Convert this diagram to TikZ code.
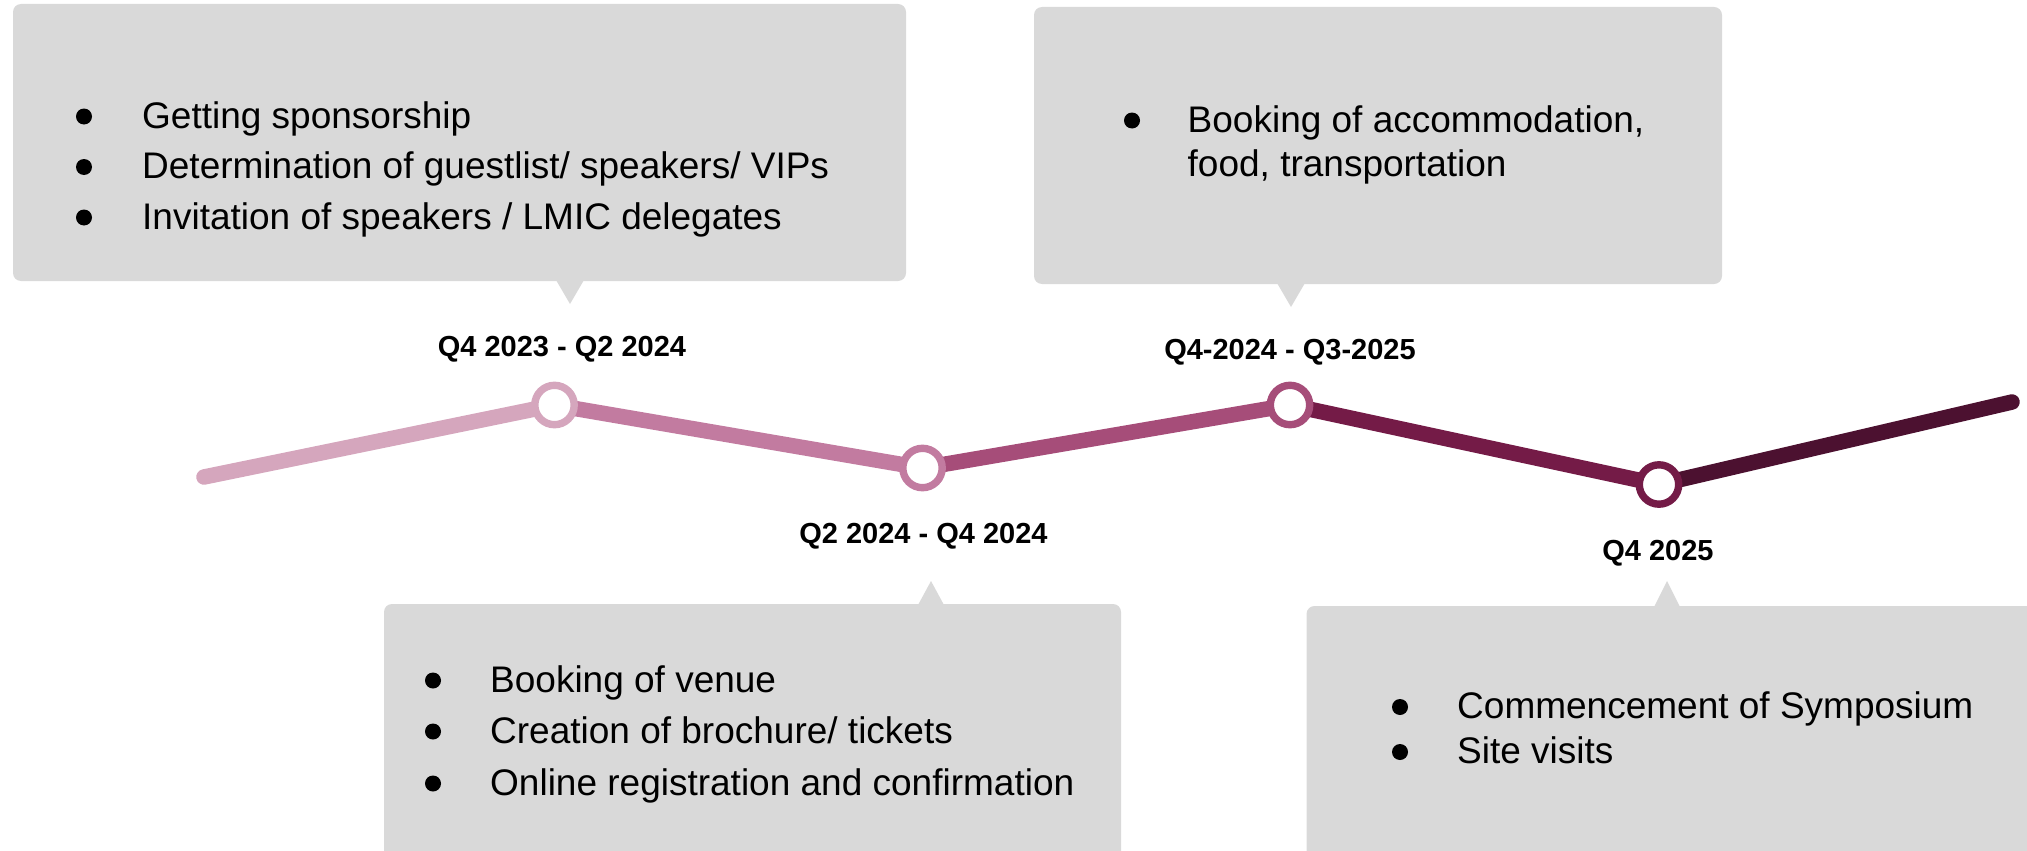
\documentclass[tikz,border=0pt]{standalone}
\usepackage{fontspec}
\setmainfont{Liberation Sans}
\pgfdeclarelayer{bg}
\pgfsetlayers{bg,main}
\definecolor{boxgray}{HTML}{D9D9D9}
\definecolor{mA}{HTML}{D5A6BD}
\definecolor{mB}{HTML}{C27BA0}
\definecolor{mC}{HTML}{A64D79}
\definecolor{mD}{HTML}{741B47}
\definecolor{mE}{HTML}{4C1130}
\begin{document}
\begin{tikzpicture}[x=1pt,y=-1pt,
  card/.style={fill=boxgray, rounded corners=8pt, draw=none, inner sep=0pt},
  item/.style={anchor=base west, inner sep=0pt, font=\fontsize{37}{44}\selectfont},
  bul/.style={circle, fill=black, inner sep=0pt, minimum size=16pt},
  datelbl/.style={anchor=base, inner sep=0pt, font=\fontsize{29}{34}\selectfont\bfseries},
  ring/.style={circle, fill=white, draw=#1, line width=7.4pt, minimum size=39.4pt, inner sep=0pt},
  seg/.style={draw=#1, line width=15.5pt, line cap=round}]
\useasboundingbox (0,0) rectangle (2027,851);

% cards
\node[card, minimum width=893pt, minimum height=277pt] (b1) at (459.5,142.5) {};
\fill[boxgray] (556,280) -- (584,280) -- (570,304) -- cycle;
\node[card, minimum width=688pt, minimum height=277pt] (b2) at (1378,145.5) {};
\fill[boxgray] (1277,283) -- (1305,283) -- (1291,307) -- cycle;
\node[card, minimum width=737pt, minimum height=266pt] (b3) at (752.5,737) {};
\fill[boxgray] (918,605) -- (944,605) -- (931,581) -- cycle;
\node[card, minimum width=738.5pt, minimum height=264pt] (b4) at (1675.75,738) {};
\fill[boxgray] (1654,607) -- (1680,607) -- (1667,581) -- cycle;

% card 1 text
\node[bul] (b1u1) at (84,116.5) {};
\node[bul] (b1u2) at (84,167) {};
\node[bul] (b1u3) at (84,217.5) {};
\node[item] (t11) at (142,128) {Getting sponsorship};
\node[item] (t12) at (142,178.5) {Determination of guestlist/ speakers/ VIPs};
\node[item] (t13) at (142,229) {Invitation of speakers / LMIC delegates};

% card 2 text
\node[bul] (b2u1) at (1132,120.5) {};
\node[item] (t21) at (1187.5,132) {Booking of accommodation,};
\node[item] (t22) at (1187.5,176) {food, transportation};

% card 3 text
\node[bul] (b3u1) at (433,680.5) {};
\node[bul] (b3u2) at (433,731.5) {};
\node[bul] (b3u3) at (433,783.5) {};
\node[item] (t31) at (490,692) {Booking of venue};
\node[item] (t32) at (490,743) {Creation of brochure/ tickets};
\node[item] (t33) at (490,795) {Online registration and confirmation};

% card 4 text
\node[bul] (b4u1) at (1400,707) {};
\node[bul] (b4u2) at (1400,752) {};
\node[item] (t41) at (1457,718) {Commencement of Symposium};
\node[item] (t42) at (1457,763) {Site visits};

% timeline
\coordinate (s) at (204,477);
\coordinate (e) at (2012,402);
\node[ring=mA] (n1) at (554.5,405) {};
\node[ring=mB] (n2) at (922.5,468) {};
\node[ring=mC] (n3) at (1290,405) {};
\node[ring=mD] (n4) at (1659,484.5) {};
\begin{pgfonlayer}{bg}
\draw[seg=mA] (s) -- (n1.center);
\draw[seg=mB] (n1.center) -- (n2.center);
\draw[seg=mC] (n2.center) -- (n3.center);
\draw[seg=mD] (n3.center) -- (n4.center);
\draw[seg=mE] (n4.center) -- (e);
\end{pgfonlayer}

% dates
\node[datelbl] (d1) at (562,356) {Q4 2023 - Q2 2024};
\node[datelbl] (d2) at (923.5,543) {Q2 2024 - Q4 2024};
\node[datelbl] (d3) at (1290,359.5) {Q4-2024 - Q3-2025};
\node[datelbl] (d4) at (1658,560) {Q4 2025};
\end{tikzpicture}
\end{document}
